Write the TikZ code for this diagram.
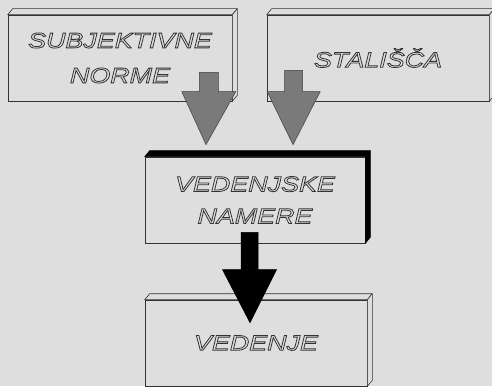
\documentclass[tikz,border=0pt]{standalone}
\usepackage{fontspec}
\usetikzlibrary{calc}
\newfontfamily\boxfont[FakeStretch=1.25]{Liberation Sans}
\definecolor{paper}{gray}{0.87}
\definecolor{edge-gray}{gray}{0.2}
\definecolor{arrow-gray}{gray}{0.48}
\definecolor{text-gray}{gray}{0.2}
\tikzstyle{box}=[draw=edge-gray,fill=paper,line width=0.6pt,minimum width=222pt,minimum height=86pt,align=center,inner sep=0pt,text=text-gray]
\tikzstyle{depth}=[draw=edge-gray,fill=paper,line width=0.6pt,line join=round]
\tikzstyle{blackdepth}=[draw=black,fill=black,line width=0.6pt,line join=round]
\tikzstyle{grayarrow}=[draw=black!75,fill=arrow-gray,line width=0.5pt]
\tikzstyle{blackarrow}=[draw=black,fill=black,line width=0.5pt]
\newcommand{\hollow}[1]{\special{pdf:literal direct 1 Tr 0.8 w}#1\special{pdf:literal direct 0 Tr}}
\newcommand{\depthbox}[2][depth]{% top and right face of box #2
  \draw[#1] (#2.north west) -- ++(5,6) -- ($(#2.north east)+(5,6)$) -- (#2.north east) -- cycle;
  \draw[#1] (#2.north east) -- ++(5,6) -- ($(#2.south east)+(5,6)$) -- (#2.south east) -- cycle;
}
\newcommand{\blockarrow}[6][grayarrow]{% [style]{from}{to}{half shaft}{half head}{head length}
  \draw[#1] let \p1=(#2), \p2=(#3) in
    (\x1-#4pt,\y1) -- (\x1+#4pt,\y1) -- (\x1+#4pt,\y2+#6pt) -- (\x1+#5pt,\y2+#6pt)
    -- (\x2,\y2) -- (\x1-#5pt,\y2+#6pt) -- (\x1-#4pt,\y2+#6pt) -- cycle;
}
\begin{document}
\begin{tikzpicture}[x=1pt,y=1pt,font=\boxfont\itshape\fontsize{21.5}{35}\selectfont]
\clip (0,0) rectangle (492,386);
\fill[paper] (0,0) rectangle (492,386);
% boxes
\node[box,minimum width=224pt] (subj) at (120,328) {\hollow{SUBJEKTIVNE}\\\hollow{NORME}};
\node[box] (att) at (378,328) {\hollow{STALIŠČA}};
\node[box,minimum width=220pt] (intent) at (255,186) {\hollow{VEDENJSKE}\\[-3pt]\hollow{NAMERE}};
\node[box] (behav) at (256,43) {\hollow{VEDENJE}};
% 3d edges
\depthbox{subj}
\depthbox{att}
\depthbox[blackdepth]{intent}
\depthbox{behav}
% arrows
\coordinate (a1s) at ($(subj.south east)+(-23.5,29)$);
\coordinate (a1t) at ($(intent.north)+(-49,12)$);
\coordinate (a2s) at ($(att.south west)+(27,31)$);
\coordinate (a2t) at ($(intent.north)+(38,12)$);
\coordinate (a3s) at ($(intent.south)+(-5.5,11)$);
\coordinate (a3t) at ($(behav.north)+(-6,-23)$);
\blockarrow{a1s}{a1t}{9.5}{27}{53}
\blockarrow{a2s}{a2t}{9}{26.5}{53}
\blockarrow[blackarrow]{a3s}{a3t}{8.5}{27}{53}
\end{tikzpicture}
\end{document}
